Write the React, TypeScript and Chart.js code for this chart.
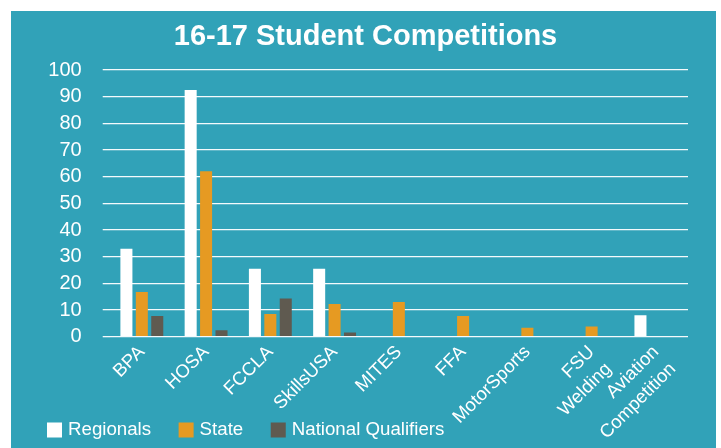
import React, { useEffect, useRef } from "react";
import { Chart, registerables } from "chart.js";

Chart.register(...registerables);

const categories: (string | string[])[] = [
  "BPA",
  "HOSA",
  "FCCLA",
  "SkillsUSA",
  "MITES",
  "FFA",
  "MotorSports",
  ["FSU", "Welding"],
  ["Aviation", "Competition"],
];
const regionals = [33, 92.5, 25.5, 25.5, 0, 0, 0, 0, 8];
const state = [16.8, 62, 8.5, 12.3, 13, 7.8, 3.4, 3.8, 0];
const nationalQualifiers = [7.8, 2.4, 14.3, 1.6, 0, 0, 0, 0, 0];

const FONT = "'Liberation Sans', Arial, sans-serif";

// Legend drawn along the bottom-left, beside the rotated category labels
const bottomLegend = {
  id: "bottomLegend",
  afterDraw(chart: any) {
    const ctx = chart.ctx;
    const size = 18.7;
    const box = 15;
    const textGap = 6;
    const itemGap = 27.5;
    let x = 36;
    const yMid = 419;
    ctx.save();
    ctx.font = `${size}px ${FONT}`;
    ctx.textBaseline = "middle";
    ctx.textAlign = "left";
    chart.data.datasets.forEach((ds: any) => {
      ctx.fillStyle = ds.backgroundColor;
      ctx.fillRect(x, yMid - box / 2, box, box);
      ctx.fillStyle = "#FFFFFF";
      const tx = x + box + textGap;
      ctx.fillText(ds.label, tx, yMid);
      x = tx + ctx.measureText(ds.label).width + itemGap;
    });
    ctx.restore();
  },
};

export default function App() {
  const ref = useRef<HTMLCanvasElement | null>(null);
  useEffect(() => {
    if (!ref.current) return;
    const chart = new Chart(ref.current, {
      type: "bar",
      data: {
        labels: categories,
        datasets: [
          { label: "Regionals", data: regionals, backgroundColor: "#FFFFFF", borderWidth: 0 },
          { label: "State", data: state, backgroundColor: "#E69A22", borderWidth: 0 },
          { label: "National Qualifiers", data: nationalQualifiers, backgroundColor: "#5F5A50", borderWidth: 0 },
        ],
      },
      plugins: [bottomLegend],
      options: {
        animation: false,
        responsive: true,
        maintainAspectRatio: false,
        layout: { padding: { left: 32, right: 28, top: 0, bottom: 0 } },
        datasets: { bar: { categoryPercentage: 0.72, barPercentage: 0.78 } },
        plugins: {
          title: {
            display: true,
            text: "16-17 Student Competitions",
            color: "#FFFFFF",
            font: { family: FONT, size: 29, weight: "bold" },
            padding: { top: 8.3, bottom: 15.9 },
          },
          legend: { display: false },
          tooltip: { enabled: false },
        },
        scales: {
          x: {
            grid: { display: false },
            border: { display: false },
            ticks: {
              color: "#FFFFFF",
              font: { family: FONT, size: 18.5, lineHeight: 1.3 },
              minRotation: 45,
              maxRotation: 45,
              autoSkip: false,
              padding: -4,
            },
            afterFit: (scale: any) => {
              scale.height = 111.3;
            },
          },
          y: {
            min: 0,
            max: 100,
            grid: { color: "rgba(255,255,255,0.95)", lineWidth: 1.3, tickLength: 7 },
            border: { display: false },
            ticks: {
              stepSize: 10,
              autoSkip: false,
              color: "#FFFFFF",
              font: { family: FONT, size: 20 },
              padding: 21,
            },
            afterFit: (scale: any) => {
              scale.width = 66.7;
            },
          },
        },
      },
    });
    return () => chart.destroy();
  }, []);
  return (
    <div
      style={{
        position: "absolute",
        left: 11,
        top: 11,
        width: 705,
        height: 437,
        background: "#31A2B8",
      }}
    >
      <canvas ref={ref} />
    </div>
  );
}
